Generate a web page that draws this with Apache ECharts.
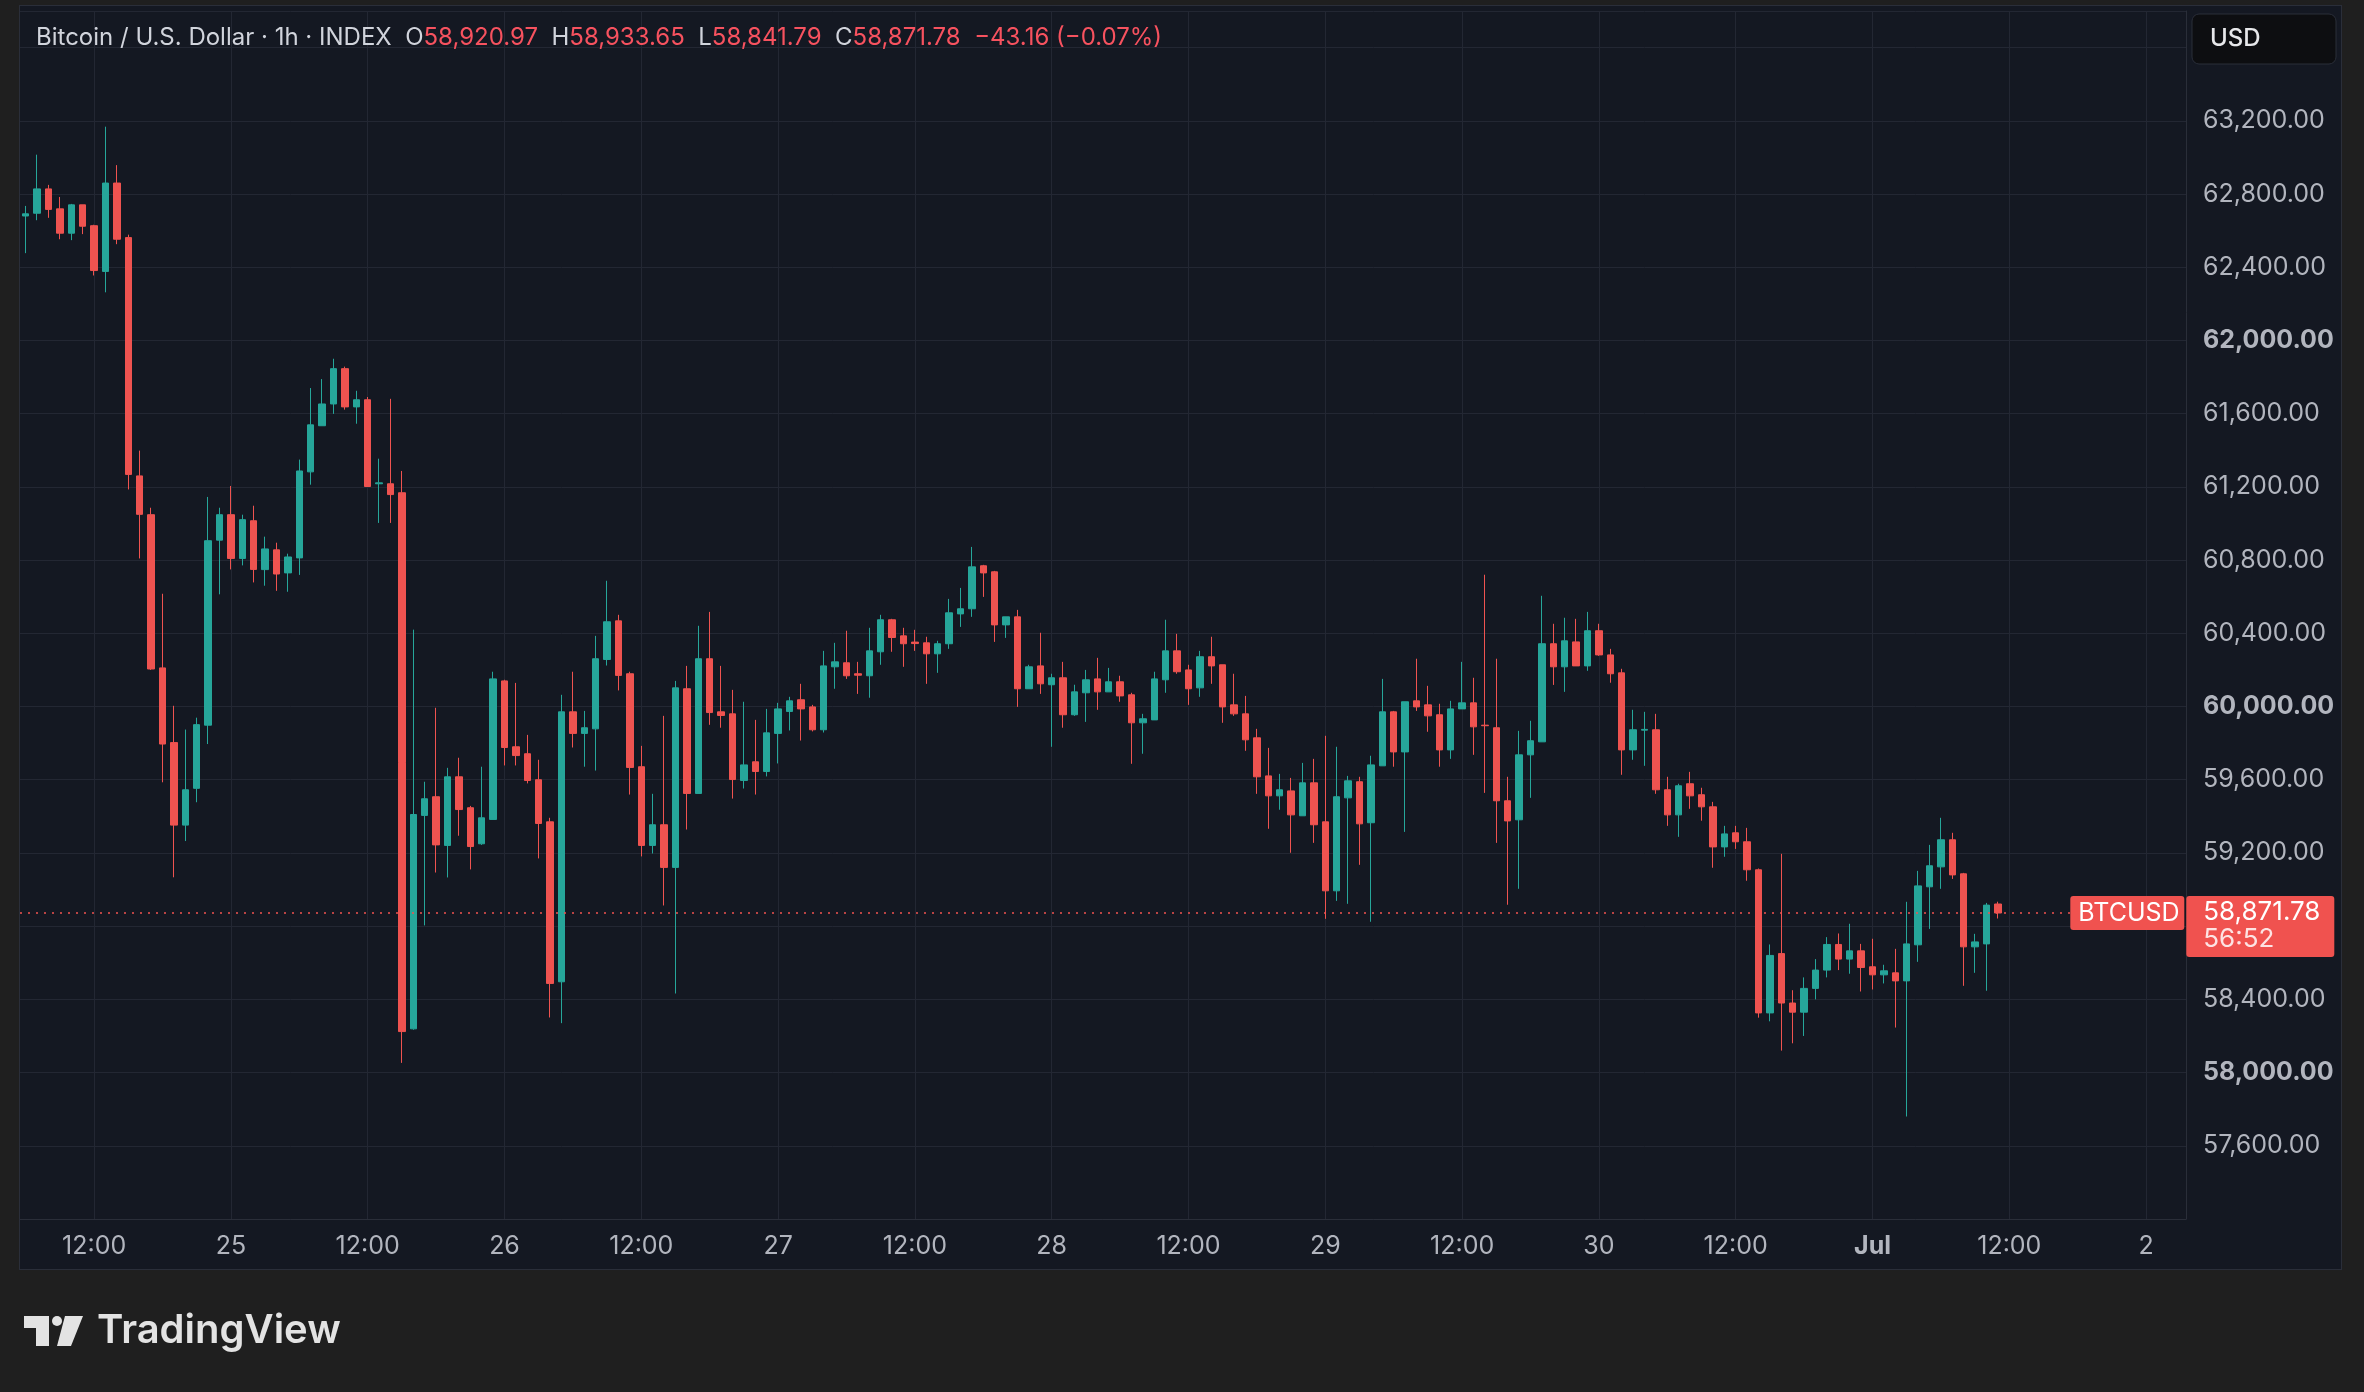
<!DOCTYPE html>
<html>
<head>
<meta charset="utf-8">
<script src="https://cdn.jsdelivr.net/npm/echarts@6/dist/echarts.min.js"></script>
<style>
  html, body { margin: 0; padding: 0; background: #1f1f1f; }
  #frame { position: absolute; left: 19px; top: 5px; width: 2323px; height: 1265px;
           background: #141822; border: 1px solid #2a2e39; box-sizing: border-box; }
  #main { position: absolute; left: 0; top: 0; width: 2364px; height: 1392px; }
</style>
</head>
<body>
<div id="frame"></div>
<div id="main"></div>
<script>
  // hourly candles, hours counted from 24 Jun 00:00 (first candle 24 Jun 06:00, last 1 Jul 11:00)
  const firstHour = 6;
  const axisEndHour = 195;

  const opens = [
    62680, 62695, 62828, 62719, 62586, 62741, 62627, 62377, 62860, 62562,
    61260, 61048, 60211, 59803, 59352, 59553, 59898, 60909, 61048, 60809,
    61015, 60748, 60856, 60730, 60812, 61282, 61534, 61653, 61846, 61637,
    61676, 61217, 61217, 61168, 58239, 59405, 59507, 59241, 59616, 59447,
    59250, 59383, 60140, 59780, 59742, 59600, 59370, 58496, 59971, 59853,
    59878, 60257, 60468, 60179, 59671, 59241, 59354, 59121, 60097, 59525,
    60261, 59971, 59960, 59596, 59698, 59645, 59853, 59973, 60037, 59998,
    59873, 60217, 60239, 60179, 60168, 60299, 60474, 60386, 60352, 60348,
    60288, 60343, 60506, 60534, 60769, 60736, 60446, 60490, 60097, 60222,
    60119, 60157, 59955, 60075, 60151, 60080, 60135, 60064, 59911, 59927,
    60146, 60304, 60200, 60102, 60272, 60228, 60009, 59960, 59829, 59621,
    59512, 59539, 59403, 59583, 59370, 58993, 59501, 59589, 59365, 59676,
    59971, 59752, 60031, 60009, 59955, 59763, 59987, 60020, 59898, 59884,
    59485, 59381, 59736, 59807, 60343, 60217, 60353, 60222, 60414, 60282,
    60184, 59763, 59871, 59873, 59545, 59408, 59578, 59518, 59452, 59233,
    59310, 59261, 59108, 58326, 58650, 58380, 58330, 58460, 58560, 58700,
    58620, 58665, 58578, 58534, 58545, 58501, 58698, 59015, 59124, 59272,
    59086, 58687, 58703, 58920.97
  ];
  const highs = [
    62735, 63015, 62850, 62784, 62746, 62741, 62632, 63168, 62958, 62578,
    61398, 61086, 60616, 60004, 59874, 59939, 61145, 61086, 61205, 61048,
    61097, 60928, 60895, 60835, 61349, 61740, 61789, 61900, 61857, 61725,
    61691, 61354, 61681, 61287, 60420, 59589, 59993, 59665, 59720, 59457,
    59671, 60190, 60146, 60129, 59845, 59709, 59392, 60064, 60190, 59976,
    60386, 60687, 60501, 60190, 59785, 59523, 59949, 60140, 60222, 60441,
    60517, 60222, 60091, 60026, 59927, 59987, 60020, 60053, 60124, 60009,
    60304, 60348, 60414, 60244, 60430, 60501, 60479, 60430, 60419, 60381,
    60359, 60588, 60648, 60872, 60774, 60741, 60490, 60528, 60228, 60403,
    60179, 60244, 60119, 60200, 60266, 60211, 60168, 60075, 59960, 60190,
    60474, 60397, 60228, 60304, 60381, 60228, 60179, 60058, 59878, 59774,
    59632, 59610, 59692, 59714, 59840, 59780, 59621, 59616, 59731, 60151,
    59976, 60026, 60261, 60113, 60015, 60031, 60244, 60157, 60720, 60261,
    59616, 59867, 59922, 60605, 60452, 60485, 60479, 60517, 60452, 60315,
    60206, 59982, 59971, 59960, 59616, 59578, 59643, 59556, 59479, 59348,
    59348, 59337, 59115, 58700, 59195, 58450, 58520, 58620, 58740, 58760,
    58813, 58703, 58731, 58589, 58676, 58933, 59102, 59244, 59392, 59310,
    59091, 58758, 58927, 58933.65
  ];
  const lows = [
    62477, 62657, 62670, 62553, 62548, 62581, 62355, 62263, 62526, 61186,
    60809, 60200, 59586, 59067, 59265, 59477, 59795, 60613, 60749, 60771,
    60678, 60660, 60632, 60627, 60719, 61212, 61534, 61599, 61622, 61545,
    61200, 61003, 61003, 58053, 58234, 58804, 59093, 59066, 59294, 59110,
    59244, 59383, 59678, 59678, 59580, 59170, 58301, 58270, 59776, 59671,
    59650, 60224, 60088, 59519, 59181, 59197, 58913, 58432, 59328, 59525,
    59900, 59884, 59497, 59552, 59519, 59618, 59689, 59869, 59814, 59864,
    59858, 60097, 60151, 60069, 60048, 60228, 60299, 60217, 60304, 60124,
    60184, 60315, 60435, 60490, 60599, 60353, 60375, 59998, 60097, 60069,
    59780, 59884, 59949, 59916, 59982, 60080, 60026, 59687, 59742, 59927,
    60075, 60179, 60009, 60053, 60124, 59911, 59949, 59758, 59523, 59332,
    59436, 59201, 59403, 59255, 58840, 58938, 58922, 59135, 58824, 59676,
    59671, 59315, 59976, 59862, 59671, 59714, 59987, 59736, 59528, 59255,
    58917, 59004, 59501, 59807, 60118, 60080, 60222, 60195, 60277, 60130,
    59627, 59709, 59676, 59523, 59348, 59288, 59441, 59376, 59119, 59179,
    59222, 59048, 58300, 58280, 58120, 58160, 58200, 58400, 58520, 58560,
    58540, 58443, 58454, 58487, 58246, 57760, 58605, 58785, 59004, 59058,
    58474, 58545, 58447, 58841.79
  ];
  const closes = [
    62692, 62828, 62716, 62586, 62741, 62624, 62382, 62860, 62553, 61268,
    61050, 60205, 59795, 59352, 59545, 59901, 60906, 61048, 60809, 61021,
    60749, 60861, 60724, 60817, 61287, 61539, 61653, 61846, 61637, 61676,
    61202, 61222, 61158, 58224, 59410, 59496, 59244, 59616, 59437, 59235,
    59392, 60151, 59776, 59732, 59596, 59361, 58487, 59971, 59853, 59884,
    60261, 60463, 60170, 59667, 59241, 59354, 59121, 60102, 59525, 60261,
    59967, 59951, 59601, 59681, 59645, 59856, 59987, 60031, 59987, 59873,
    60222, 60244, 60168, 60171, 60304, 60474, 60377, 60343, 60344, 60288,
    60343, 60512, 60534, 60763, 60730, 60446, 60490, 60097, 60217, 60124,
    60157, 59955, 60080, 60146, 60080, 60135, 60058, 59911, 59933, 60151,
    60304, 60190, 60097, 60272, 60222, 59998, 59960, 59818, 59616, 59512,
    59545, 59408, 59583, 59354, 58993, 59507, 59594, 59359, 59681, 59971,
    59752, 60026, 59998, 59949, 59763, 59987, 60020, 59889, 59895, 59485,
    59375, 59736, 59813, 60343, 60217, 60359, 60222, 60414, 60282, 60179,
    59763, 59873, 59875, 59545, 59408, 59567, 59512, 59452, 59233, 59304,
    59261, 59108, 58326, 58640, 58380, 58330, 58460, 58560, 58700, 58620,
    58665, 58574, 58534, 58556, 58501, 58703, 59020, 59130, 59272, 59080,
    58687, 58714, 58914.94, 58871.78
  ];

  const priceTicks = { min: 57200, max: 63800, step: 400 };
  const symbolName = 'BTCUSD';
  const countdown = '56:52';

  const UP = '#26a69a', DOWN = '#ef5350';
  const TXT = '#b2b5be', HEAD = '#d1d4dc', GRID = '#232733';
  const FONT = 'Inter, Roboto, sans-serif';
  const AXFS = 25;

  const hours = [];
  for (let h = firstHour; h <= axisEndHour; h++) hours.push(String(h));

  const candles = opens.map((o, i) => [o, closes[i], lows[i], highs[i]]);

  const fmt = v => v.toLocaleString('en-US', { minimumFractionDigits: 2, maximumFractionDigits: 2 });

  function timeLabel(v) {
    const h = Number(v);
    if (h % 24 === 12) return '12:00';
    const day = 24 + h / 24;
    if (day === 31) return '{b|Jul}';
    return String(day > 30 ? day - 30 : day);
  }
  const every12h = (idx, v) => Number(v) % 12 === 0;

  const n = closes.length;
  const last = { o: opens[n - 1], h: highs[n - 1], l: lows[n - 1], c: closes[n - 1] };
  const chg = last.c - closes[n - 2];
  const pct = chg / closes[n - 2] * 100;
  const minus = x => (x < 0 ? '\u2212' : '+') + Math.abs(x).toFixed(2);

  const chart = echarts.init(document.getElementById('main'));
  chart.setOption({
    animation: false,
    backgroundColor: 'transparent',
    grid: { left: 20, right: 178, top: 11, bottom: 173 },
    xAxis: {
      type: 'category',
      data: hours,
      boundaryGap: true,
      axisLine: { show: true, lineStyle: { color: '#2a2e39', width: 1 } },
      axisTick: { show: false },
      axisLabel: {
        interval: every12h, formatter: timeLabel, color: TXT,
        fontSize: AXFS, fontFamily: FONT, margin: 15,
        rich: { b: { fontWeight: 'bold', fontSize: AXFS, color: TXT, fontFamily: FONT } }
      },
      splitLine: { show: true, interval: every12h, alignWithLabel: true,
                   lineStyle: { color: GRID, width: 1 } }
    },
    yAxis: {
      type: 'value',
      position: 'right',
      scale: true,
      min: priceTicks.min, max: priceTicks.max, interval: priceTicks.step,
      axisLine: { show: true, lineStyle: { color: '#2a2e39', width: 1 } },
      axisTick: { show: false },
      axisLabel: {
        color: TXT, fontSize: AXFS, fontFamily: FONT, margin: 17,
        formatter: v => {
          if (v === priceTicks.max || v === priceTicks.min || v === 63600 || v === 58800) return '';
          return v % 2000 === 0 ? '{b|' + fmt(v) + '}' : fmt(v);
        },
        rich: { b: { fontWeight: 'bold', fontSize: AXFS, color: TXT, fontFamily: FONT } }
      },
      splitLine: { show: true, lineStyle: { color: GRID, width: 1 } }
    },
    series: [{
      type: 'candlestick',
      data: candles,
      barWidth: 7,
      itemStyle: { color: UP, color0: DOWN, borderColor: UP, borderColor0: DOWN, borderWidth: 1 },
      markLine: {
        silent: true, symbol: 'none', animation: false,
        label: { show: false },
        lineStyle: { color: DOWN, type: [2, 6], width: 1.5 },
        data: [{ yAxis: last.c }]
      }
    }]
  });

  const yLast = chart.convertToPixel({ yAxisIndex: 0 }, last.c);
  const axisX = chart.convertToPixel({ xAxisIndex: 0 }, hours[hours.length - 1]) + 6;

  chart.setOption({
    graphic: [
      {
        type: 'text', left: 36, top: 26, z: 10,
        style: {
          text: '{g|Bitcoin / U.S. Dollar · 1h · INDEX}  {g|O}{r|' + fmt(last.o) + '}  {g|H}{r|' + fmt(last.h) +
                '}  {g|L}{r|' + fmt(last.l) + '}  {g|C}{r|' + fmt(last.c) + '}  {r|' + minus(chg) + ' (' + minus(pct) + '%)}',
          font: '24px ' + FONT,
          rich: {
            g: { fill: HEAD, fontSize: 24, fontFamily: FONT },
            r: { fill: '#f7525f', fontSize: 24, fontFamily: FONT }
          }
        }
      },
      // currency box
      { type: 'rect', z: 10, shape: { x: 2192, y: 14, width: 144, height: 50, r: 7 },
        style: { fill: '#0d0e11', stroke: '#2a2e39', lineWidth: 1 } },
      { type: 'text', z: 11, x: 2210, y: 39,
        style: { text: 'USD', fill: '#e6e7ea', font: '500 24px ' + FONT, verticalAlign: 'middle' } },
      // last price label on the axis
      { type: 'rect', z: 10, shape: { x: axisX, y: yLast - 17, width: 148, height: 61, r: 3 },
        style: { fill: '#f0524f' } },
      { type: 'text', z: 11, x: axisX + 17, y: yLast - 1,
        style: { text: fmt(last.c), fill: '#ffffff', font: '26px ' + FONT, verticalAlign: 'middle' } },
      { type: 'text', z: 11, x: axisX + 17, y: yLast + 26,
        style: { text: countdown, fill: '#fde3e3', font: '26px ' + FONT, verticalAlign: 'middle' } },
      { type: 'rect', z: 10, shape: { x: axisX - 116, y: yLast - 17, width: 114, height: 34, r: 3 },
        style: { fill: '#f0524f' } },
      { type: 'text', z: 11, x: axisX - 108, y: yLast,
        style: { text: symbolName, fill: '#ffffff', font: '25px ' + FONT, verticalAlign: 'middle' } },
      // TradingView mark
      { type: 'group', z: 10, children: [
        { type: 'rect', shape: { x: 24, y: 1316, width: 25, height: 12 }, style: { fill: '#e3e3e3' } },
        { type: 'rect', shape: { x: 36, y: 1316, width: 13, height: 30 }, style: { fill: '#e3e3e3' } },
        { type: 'circle', shape: { cx: 57, cy: 1321, r: 5 }, style: { fill: '#e3e3e3' } },
        { type: 'polygon', shape: { points: [[65, 1316], [83, 1316], [71, 1346], [57, 1346]] }, style: { fill: '#e3e3e3' } }
      ] },
      { type: 'text', z: 10, x: 97, y: 1331,
        style: { text: 'TradingView', fill: '#e3e3e3', font: '600 40px ' + FONT, verticalAlign: 'middle' } }
    ]
  });
</script>
</body>
</html>
